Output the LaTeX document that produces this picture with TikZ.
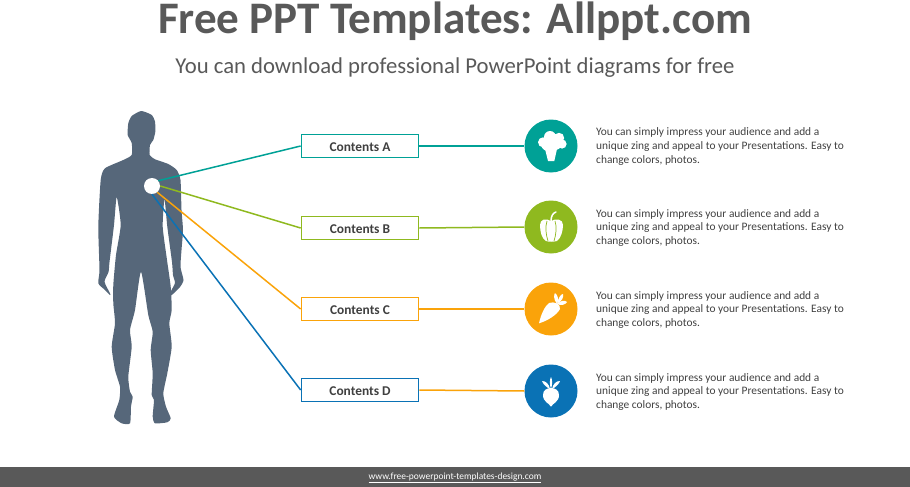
\documentclass[tikz,border=0pt]{standalone}
\usepackage{fontspec}
\setmainfont{Carlito}
\usepackage{tikz}
\definecolor{tealc}{RGB}{0,161,150}
\definecolor{greenc}{RGB}{143,185,31}
\definecolor{orangec}{RGB}{250,163,10}
\definecolor{bluec}{RGB}{10,114,181}
\definecolor{bodyc}{RGB}{86,103,122}
\definecolor{bandc}{RGB}{89,89,89}
\definecolor{titlec}{RGB}{89,89,89}
\definecolor{textc}{RGB}{64,64,64}
\newcommand{\blurb}{You can simply impress your audience and add a\\
unique zing and appeal to your Presentations. Easy to\\
change colors, photos.}
\tikzset{
  contentbox/.style={draw, line width=1.7pt, fill=white, minimum width=117pt, minimum height=23pt,
    inner sep=0pt, text=textc, text height=10.5pt, text depth=0pt, font=\fontsize{13.4}{15}\selectfont\bfseries},
  iconcircle/.style={circle, fill=#1, minimum size=53pt, inner sep=0pt},
  blurbtext/.style={anchor=west, align=left, inner sep=0pt, text=textc,
    font=\fontsize{11.4}{13.6}\selectfont},
  link/.style={line width=1.5pt}
}
\begin{document}
\begin{tikzpicture}[x=1pt, y=-1pt]
      \useasboundingbox (0,0) rectangle (910,487);

      \node[text=titlec, inner sep=0pt, font=\fontsize{45.1}{50}\selectfont\bfseries] (title) at (455,21.5) {Free PPT Templates: Allppt.com};
      \node[text=titlec, inner sep=0pt, font=\fontsize{22.7}{26}\selectfont] (subtitle) at (455,67.5) {You can download professional PowerPoint diagrams for free};

      % silhouette
      \fill[bodyc] plot[smooth cycle, tension=.35] coordinates {
        (141.3,111) (151.7,115) (155,121.7) (155.3,131.7) (153.3,140) (150,145) (149.7,155)
        (155,159.3) (168.3,164) (176.7,170) (180.5,180) (181.5,210) (183,230) (181.5,250) (180.5,267)
        (183.5,280) (180,287) (171.7,295) (170.7,291.7) (175,283) (173,275) (172,262) (167.3,226.7) (164.5,199)
        (162.7,226.7) (167,260) (170.7,286.7) (171.7,310) (169.3,323.3) (171.7,346.7) (167.3,373.3)
        (163.3,393.3) (166,406.7) (170.7,418.3) (167.3,422.3) (155,423.3) (152.7,416.7) (154,400)
        (151.7,395) (152.7,373.3) (150.7,350) (152.7,331.7) (148.3,315) (141,271.7)
        (135,310) (130,330) (131.7,346.7) (128.3,376.7) (130,391.7) (132.7,396.7) (131,406.7)
        (130,423.3) (121.7,423.3) (114,416.7) (119.3,400) (120,386.7) (115,370) (111.7,346.7)
        (115,323.3) (113.3,303.3) (113.3,285) (116,255) (120.7,225) (116.7,197)
        (114,225) (109.5,262) (108.5,272) (104.5,281.7) (110,293.3) (110,295) (105,290) (98.3,283.3)
        (99.5,270) (98.3,226.7) (100.7,180) (105,168.3) (123.3,160) (131.7,155) (131.7,143)
        (127.7,135) (128.3,123.3) (131.7,116)
      };

      \node[contentbox, draw=tealc] (boxa) at (360,146) {Contents A};
      \node[contentbox, draw=greenc] (boxb) at (360,228) {Contents B};
      \node[contentbox, draw=orangec] (boxc) at (360,309) {Contents C};
      \node[contentbox, draw=bluec] (boxd) at (360,390) {Contents D};

      \node[iconcircle=tealc] (circa) at (551,146) {};
      \node[iconcircle=greenc] (circb) at (551,227) {};
      \node[iconcircle=orangec] (circc) at (551,309) {};
      \node[iconcircle=bluec] (circd) at (551,391) {};

      \node[circle, fill=white, minimum size=16pt, inner sep=0pt] (dot) at (152,186) {};

      \draw[link, tealc] (dot.40) -- (boxa.west);
      \draw[link, greenc] (dot.0) -- (boxb.west);
      \draw[link, orangec] (dot.-50) -- (boxc.west);
      \draw[link, bluec] (dot.south) -- (boxd.west);

      \draw[link, tealc] (boxa.east) -- (circa.west);
      \draw[link, greenc] (boxb.east) -- (circb.west);
      \draw[link, orangec] (boxc.east) -- (circc.west);
      \draw[link, orangec] (boxd.east) -- (circd.west);

      \node[blurbtext] (texta) at (596,146.5) {\blurb};
      \node[blurbtext] (textb) at (596,228) {\blurb};
      \node[blurbtext] (textc) at (596,310) {\blurb};
      \node[blurbtext] (textd) at (596,392) {\blurb};

      % broccoli
      \begin{scope}[shift={(circa.center)}]
        \fill[white] (-8,-3.7) circle (5) (-1,-9) circle (6) (8,-8) circle (5.2)
          (11,-2) circle (4.6) (4,-3) circle (7) (-3,-2) circle (7);
        \fill[white] (-6,3) -- (-3,15) -- (3.3,15) -- (6,3) -- cycle;
      \end{scope}

      % pepper
      \begin{scope}[shift={(circb.center)}]
        \fill[white] (0,-6) .. controls (-5,-9) and (-11,-8) .. (-11,-2)
          .. controls (-11,5) and (-9,12) .. (-5,14) .. controls (-2,15) and (2,15) .. (6,14)
          .. controls (10,11) and (12,4) .. (12,-2) .. controls (12,-8) and (5,-9) .. (0,-6) -- cycle;
        \draw[white, line width=1.5pt, line cap=round] (0,-6) .. controls (0,-11) and (2,-14) .. (5,-15);
        \draw[greenc, line width=.7pt] (-4,-6) .. controls (-6,0) and (-5,8) .. (-3,14);
        \draw[greenc, line width=.7pt] (4,-6) .. controls (6,0) and (5,8) .. (3,14);
      \end{scope}

      % carrot
      \begin{scope}[shift={(circc.center)}]
        \fill[white] (-12,14.3) .. controls (-10,5) and (-6,-3) .. (-2,-6)
          .. controls (3,-8) and (10,-5) .. (9,0) .. controls (6,6) and (-4,12) .. (-12,14.3) -- cycle;
        \fill[white] (6,-5) .. controls (2,-10) and (3,-15) .. (4,-16) .. controls (7,-14) and (8,-9) .. (6,-5) -- cycle;
        \fill[white] (6,-5) .. controls (7,-11) and (10,-15) .. (12,-15) .. controls (13,-12) and (11,-8) .. (6,-5) -- cycle;
        \fill[white] (6,-5) .. controls (10,-9) and (14,-9) .. (16,-7) .. controls (14,-4) and (10,-3) .. (6,-5) -- cycle;
      \end{scope}

      % beet
      \begin{scope}[shift={(circd.center)}]
        \fill[white] (0,15.7) .. controls (-2,12) and (-8,11) .. (-8,4) .. controls (-8,-1) and (-4,-3) .. (0,-3)
          .. controls (4,-3) and (8,-1) .. (8,4) .. controls (8,11) and (2,12) .. (0,15.7) -- cycle;
        \fill[white] (0,-2) .. controls (-1.5,-7) and (-1.5,-11) .. (0,-14) .. controls (1.5,-11) and (1.5,-7) .. (0,-2) -- cycle;
        \fill[white] (-1,-2) .. controls (-5,-4) and (-8,-7) .. (-9,-10) .. controls (-5,-10) and (-2,-7) .. (-1,-2) -- cycle;
        \fill[white] (1,-2) .. controls (5,-4) and (8,-7) .. (9,-10) .. controls (5,-10) and (2,-7) .. (1,-2) -- cycle;
      \end{scope}

      \fill[bandc] (0,467) rectangle (910,487);
      \node[text=white, inner sep=0pt, font=\fontsize{9.45}{12}\selectfont] (footer) at (455,478) {\underline{www.free-powerpoint-templates-design.com}};
\end{tikzpicture}
\end{document}
